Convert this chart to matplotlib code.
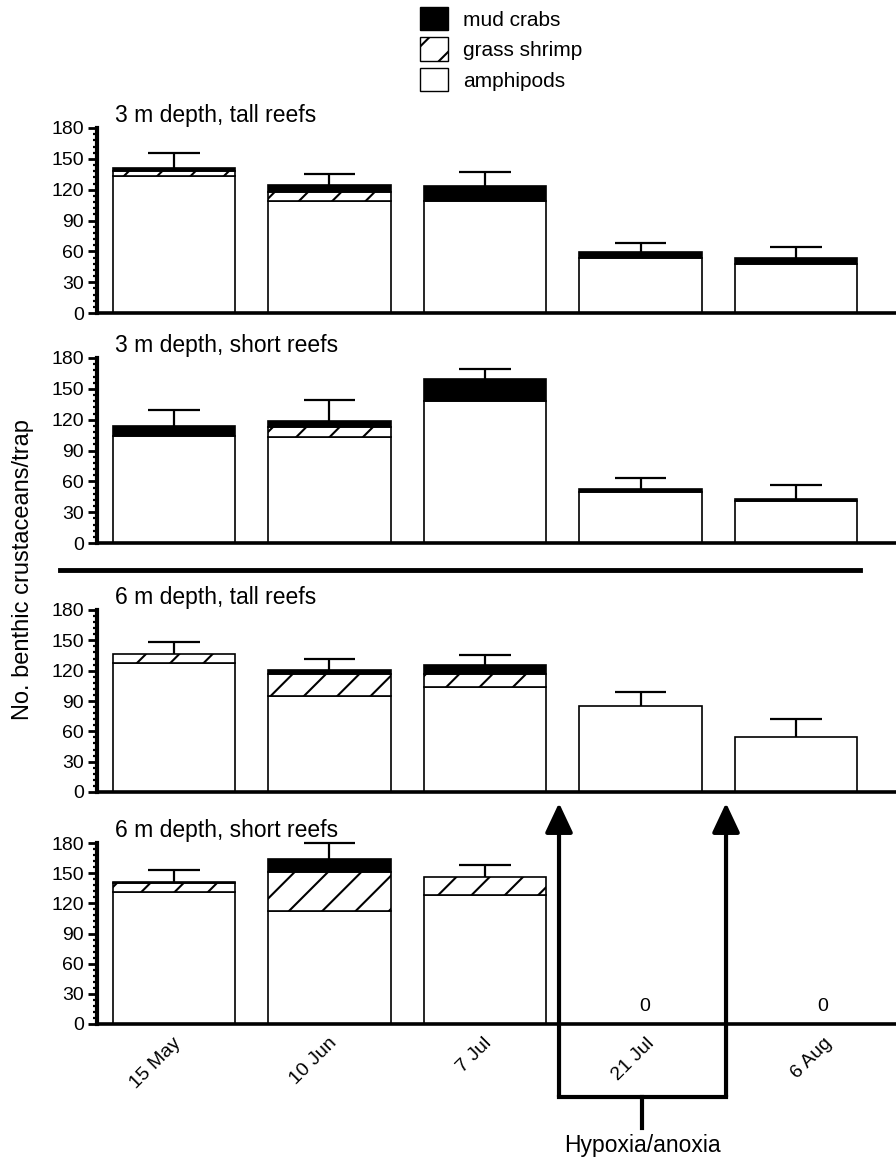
import numpy as np
import matplotlib
matplotlib.use("Agg")
import matplotlib.pyplot as plt
from matplotlib.patches import Patch
from matplotlib.lines import Line2D
from matplotlib.ticker import MultipleLocator
from matplotlib.transforms import ScaledTranslation

plt.rcParams['font.family'] = ['Liberation Sans', 'DejaVu Sans']
plt.rcParams['hatch.linewidth'] = 1.5

dates = ["15 May", "10 Jun", "7 Jul", "21 Jul", "6 Aug"]
panel_titles = ["3 m depth, tall reefs", "3 m depth, short reefs",
                "6 m depth, tall reefs", "6 m depth, short reefs"]

# mean counts per trap, stacked: amphipods / grass shrimp / mud crabs
amphipods = [
    [133, 109, 109, 54, 48],
    [104, 103, 138, 50, 41],
    [128, 95, 104, 85, 54],
    [131, 112, 128, 0, 0],
]
grass_shrimp = [
    [5, 9, 0, 0, 0],
    [0, 9.5, 0, 0, 0],
    [8.5, 22, 13, 0, 0],
    [9.5, 39, 18.5, 0, 0],
]
mud_crabs = [
    [3, 7, 15, 5, 6],
    [10, 6.5, 22, 3, 1.5],
    [0, 3.5, 8.5, 0, 0],
    [1, 13, 0, 0, 0],
]
# upper error (SE) on total
errors = [
    [15, 10.5, 13.5, 9, 10],
    [15.5, 19.7, 9.3, 9.8, 14.3],
    [12, 11.5, 10, 14, 18],
    [12, 16, 12, 0, 0],
]

W, H = 896, 1160
fig = plt.figure(figsize=(W / 100, H / 100), dpi=100)

# panel (top, bottom) in pixels
panel_px = [(128, 313), (358, 543), (610, 792), (843, 1024)]
left_px = 97
x = np.arange(len(dates))
bw = 0.785

axes = []
for k, (top, bot) in enumerate(panel_px):
    ax = fig.add_axes([left_px / W, 1 - bot / H, (W - left_px) / W, (bot - top) / H])
    axes.append(ax)
    a = np.array(amphipods[k], float)
    s = np.array(grass_shrimp[k], float)
    c = np.array(mud_crabs[k], float)
    e = np.array(errors[k], float)
    tot = a + s + c

    m = a > 0
    ax.bar(x[m], a[m], bw, color="white", edgecolor="black", lw=1.2, zorder=2)
    m = s > 0
    ax.bar(x[m], s[m], bw, bottom=a[m], color="white", edgecolor="black",
           hatch="/", lw=1.2, zorder=2)
    m = c > 0
    ax.bar(x[m], c[m], bw, bottom=(a + s)[m], color="black", edgecolor="black",
           lw=1.2, zorder=2)

    m = e > 0
    ax.vlines(x[m], tot[m], tot[m] + e[m], color="black", lw=1.6, zorder=3, clip_on=False)
    ax.hlines(tot[m] + e[m], x[m] - 0.167, x[m] + 0.167, color="black", lw=1.6,
              zorder=3, clip_on=False)

    ax.set_xlim(-0.495, 4.643)
    ax.set_ylim(0, 180)
    ax.yaxis.set_major_locator(MultipleLocator(30))
    ax.yaxis.set_minor_locator(MultipleLocator(6))
    ax.tick_params(axis="y", which="major", length=6.5, width=2, labelsize=14, pad=3)
    ax.tick_params(axis="y", which="minor", length=3, width=1.6)
    for sp in ["top", "right"]:
        ax.spines[sp].set_visible(False)
    ax.spines["left"].set_linewidth(3)
    ax.spines["bottom"].set_linewidth(2.6)
    ax.set_xticks(x)
    ax.tick_params(axis="x", length=0)
    if k < 3:
        ax.set_xticklabels([])
    ax.annotate(panel_titles[k], xy=(0.0225, 1.0), xycoords="axes fraction",
                xytext=(0, 4), textcoords="offset points", va="baseline",
                fontsize=16.5)

ax4 = axes[-1]
ax4.set_xticklabels(dates, fontsize=14)
ax4.tick_params(axis="x", pad=12)
nudges = [4, 5, 4, 11, 33]
for lab, dx in zip(ax4.get_xticklabels(), nudges):
    lab.set_rotation(45)
    lab.set_ha("right")
    lab.set_va("center")
    lab.set_rotation_mode("anchor")
    lab.set_transform(lab.get_transform() + ScaledTranslation(dx / 100, 0, fig.dpi_scale_trans))

# zero labels for empty dates in bottom panel
tot4 = np.array(amphipods[3]) + np.array(grass_shrimp[3]) + np.array(mud_crabs[3])
for i in np.where(tot4 == 0)[0]:
    ax4.text(x[i] + (0.03 if i == 3 else 0.17), 17, "0", ha="center", va="center", fontsize=14)

# hypoxia/anoxia bracket with arrows
xl, xr, yb, yt = 2.476, 3.55, -72.6, 219.8
for xa in (xl, xr):
    ax4.annotate("", xy=(xa, yt), xytext=(xa, yb), annotation_clip=False,
                 arrowprops=dict(arrowstyle="-|>,head_length=1.0,head_width=0.47",
                                 lw=3, color="black", mutation_scale=18,
                                 shrinkA=0, shrinkB=0))
ax4.plot([xl, xr], [yb, yb], color="black", lw=3, clip_on=False, solid_capstyle="projecting")
xm = 3.01
ax4.plot([xm, xm], [yb, -103.4], color="black", lw=3, clip_on=False)
ax4.text(xm, -121, "Hypoxia/anoxia", ha="center", va="center", fontsize=16.5, clip_on=False)

# separator between 3 m and 6 m panels
fig.add_artist(Line2D([60 / W, 860 / W], [1 - 570 / H] * 2, lw=3.5, color="black"))

fig.text(23 / W, 1 - 570 / H, "No. benthic crustaceans/trap", rotation=90,
         ha="center", va="center", fontsize=17)

handles = [Patch(facecolor="black", edgecolor="black"),
           Patch(facecolor="white", edgecolor="black", hatch="/"),
           Patch(facecolor="white", edgecolor="black")]
fig.legend(handles, ["mud crabs", "grass shrimp", "amphipods"], loc="upper left",
           bbox_to_anchor=(420 / W, 1 - 7 / H), frameon=False, fontsize=15,
           borderpad=0, borderaxespad=0, handlelength=1.35, handleheight=1.35,
           handletextpad=0.72, labelspacing=0.34)

fig.savefig("out.png", dpi=100)
